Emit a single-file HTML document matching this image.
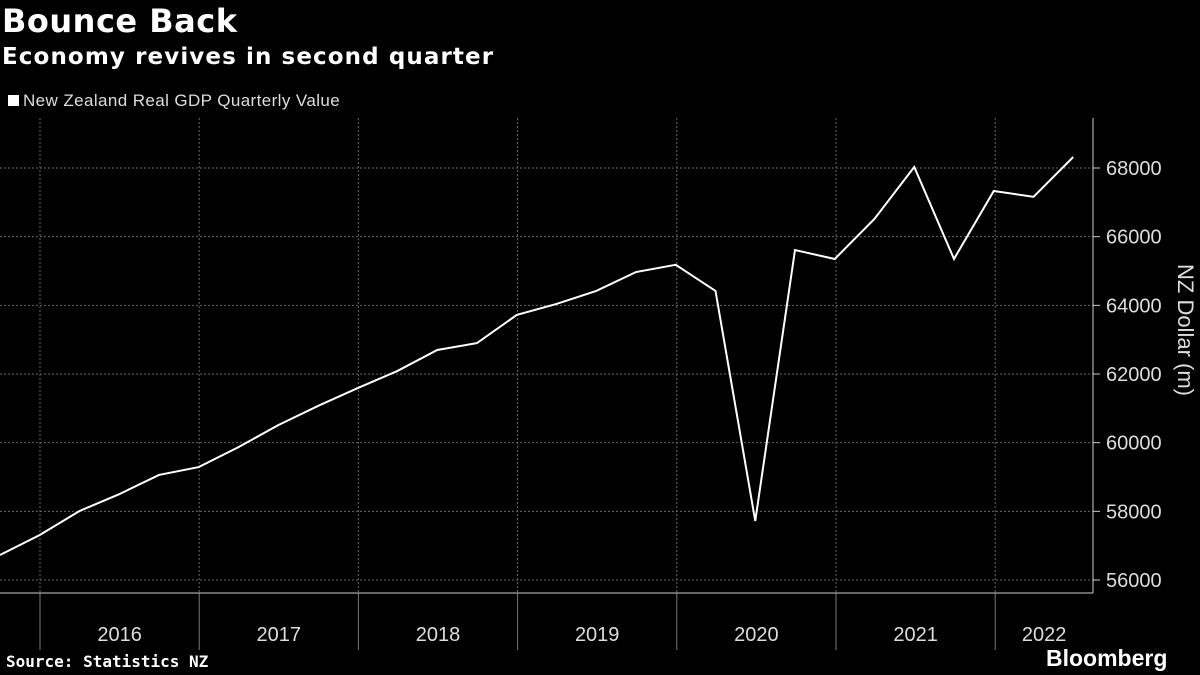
<!DOCTYPE html>
<html><head><meta charset="utf-8"><style>
body{margin:0;background:#000;width:1200px;height:675px;overflow:hidden;font-family:"Liberation Sans",sans-serif;color:#fff}
.t{position:absolute;left:2px;top:2px;font-size:32px;font-weight:bold;font-family:"DejaVu Sans",sans-serif;letter-spacing:0.5px}
.s{position:absolute;left:2px;top:44px;font-size:23px;font-weight:bold;font-family:"DejaVu Sans",sans-serif;letter-spacing:1.1px}
.l{position:absolute;left:8px;top:91px;font-size:17px;color:#ddd;font-family:"Liberation Sans",sans-serif;letter-spacing:0.4px}
.l span{display:inline-block;width:11px;height:11px;background:#fff;margin-right:4px}
.src{position:absolute;left:6px;top:652px;font-size:16px;font-weight:bold;font-family:"DejaVu Sans Mono",monospace}
.bb{position:absolute;left:1046px;top:645px;font-size:23px;font-weight:bold}
</style></head><body>
<div class="t">Bounce Back</div>
<div class="s">Economy revives in second quarter</div>
<div class="l"><span></span>New Zealand Real GDP Quarterly Value</div>
<svg id="c" width="1200" height="675" style="position:absolute;left:0;top:0"></svg>
<div class="src">Source: Statistics NZ</div>
<div class="bb">Bloomberg</div>
<script>
const values=[56730,57310,58010,58500,59060,59290,59870,60510,61070,61590,62090,62700,62900,63720,64040,64420,64970,65180,64420,57720,65610,65350,66520,68030,65350,67330,67160,68320];
const yTicks=[56000,58000,60000,62000,64000,66000,68000];
const years=["2016","2017","2018","2019","2020","2021","2022"];
const ns="http://www.w3.org/2000/svg",svg=document.getElementById('c');
const y=v=>580-(v-56000)*412/12000;
const x=i=>i*39.75;
const yearX=k=>40+k*159.2;
function mk(t,a){const e=document.createElementNS(ns,t);for(const k in a)e.setAttribute(k,a[k]);svg.appendChild(e);return e;}
yTicks.forEach(v=>{
 const g=mk('line',{x1:0,x2:1093,y1:y(v),y2:y(v),stroke:'#666','stroke-dasharray':'2,2'});
 
 
 mk('line',{x1:1093,x2:1100,y1:y(v),y2:y(v),stroke:'#ccc'});
 const t=mk('text',{x:1106,y:y(v)+7,fill:'#ddd','font-size':20,'font-family':'Liberation Sans'});t.textContent=v;
 
 
});
years.forEach((yr,k)=>{
 const x0=yearX(k),x1=k<years.length-1?yearX(k+1):1093;
 const g=mk('line',{x1:x0,x2:x0,y1:118,y2:593,stroke:'#666','stroke-dasharray':'2,2'});
 
 
 mk('line',{x1:x0,x2:x0,y1:593,y2:650,stroke:'#777'});
 const t=mk('text',{x:(x0+x1)/2,y:641,fill:'#ddd','font-size':20,'text-anchor':'middle','font-family':'Liberation Sans'});t.textContent=yr;
 
 
});
mk('line',{x1:1093,x2:1093,y1:118,y2:593,stroke:'#ccc'});
mk('line',{x1:0,x2:1093,y1:593,y2:593,stroke:'#ccc'});
const p=mk('polyline',{points:values.map((v,i)=>x(i)+','+y(v)).join(' '),fill:'none',stroke:'#fff','stroke-width':2});


const at=mk('text',{x:1178,y:330,fill:'#ddd','font-size':22,'text-anchor':'middle',transform:'rotate(90 1178 330)','font-family':'Liberation Sans'});
at.textContent='NZ Dollar (m)';


</script>
</body></html>
